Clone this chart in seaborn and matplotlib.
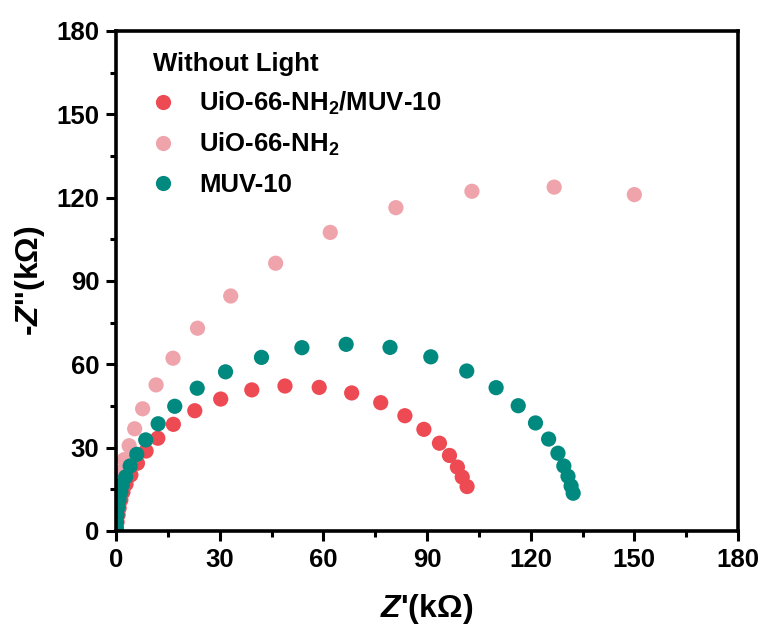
import numpy as np
import pandas as pd
import matplotlib
matplotlib.use("Agg")
import matplotlib.pyplot as plt
from matplotlib.ticker import MultipleLocator
import seaborn as sns

# ---- data (kOhm) ----
red_x = [0.1, 0.3, 0.6, 0.9, 1.4, 2.0, 2.9, 4.3, 6.2, 8.7, 12.1, 16.6, 22.8, 30.3, 39.3,
         48.9, 58.8, 68.2, 76.6, 83.6, 89.1, 93.6, 96.5, 98.8, 100.2, 101.6]
red_y = [1.0, 3.2, 5.8, 8.3, 11.2, 14.0, 16.9, 20.2, 24.4, 28.8, 33.4, 38.4, 43.3, 47.5, 50.8,
         52.2, 51.7, 49.7, 46.2, 41.5, 36.6, 31.6, 27.2, 23.0, 19.4, 16.0]

pink_x = [0.05, 0.1, 0.2, 0.4, 0.7, 1.0, 1.4, 2.4, 3.8, 5.4, 7.7, 11.6, 16.5, 23.6, 33.2,
          46.2, 62.0, 81.0, 103.0, 126.8, 150.0]
pink_y = [1.5, 4.5, 8.0, 11.5, 15.0, 18.0, 21.3, 25.7, 30.7, 36.8, 44.0, 52.6, 62.2, 73.0, 84.6,
          96.4, 107.5, 116.4, 122.3, 123.8, 121.1]

teal_x = [0.05, 0.1, 0.3, 0.6, 0.9, 1.4, 1.8, 2.8, 4.1, 6.0, 8.6, 12.2, 17.0, 23.5, 31.7,
          42.1, 53.8, 66.6, 79.3, 91.1, 101.5, 110.0, 116.4, 121.4, 125.2, 127.9, 129.6,
          130.8, 131.7, 132.3]
teal_y = [1.0, 3.2, 5.8, 8.6, 11.2, 14.0, 16.6, 19.5, 23.4, 27.6, 32.8, 38.6, 44.9, 51.4, 57.3,
          62.5, 66.0, 67.2, 66.1, 62.7, 57.6, 51.6, 45.1, 38.9, 33.1, 28.0, 23.4,
          19.7, 16.2, 13.6]

names = ["UiO-66-NH$_2$/MUV-10", "UiO-66-NH$_2$", "MUV-10"]
colors = ["#EE4A54", "#EFA4AC", "#00897F"]
legend_title = "Without Light"

sns.set_style("ticks")
plt.rcParams["font.family"] = ["Liberation Sans", "DejaVu Sans"]
plt.rcParams["font.weight"] = "bold"
plt.rcParams["text.color"] = "black"
plt.rcParams["axes.labelcolor"] = "black"
plt.rcParams["xtick.color"] = "black"
plt.rcParams["ytick.color"] = "black"
plt.rcParams["axes.edgecolor"] = "black"
plt.rcParams["mathtext.fontset"] = "custom"
plt.rcParams["mathtext.rm"] = "Liberation Sans:bold"
plt.rcParams["mathtext.bf"] = "Liberation Sans:bold"
plt.rcParams["mathtext.it"] = "Liberation Sans:italic:bold"
plt.rcParams["mathtext.default"] = "rm"

df = pd.concat([
    pd.DataFrame({"x": pink_x, "y": pink_y, "s": names[1]}),
    pd.DataFrame({"x": red_x, "y": red_y, "s": names[0]}),
    pd.DataFrame({"x": teal_x, "y": teal_y, "s": names[2]}),
], ignore_index=True)

fig = plt.figure(figsize=(7.66, 6.31), dpi=100)
ax = fig.add_axes([116/766, 1-531/631, (738-116)/766, 500/631])

sns.scatterplot(data=df, x="x", y="y", hue="s", hue_order=names,
                palette=dict(zip(names, colors)), s=120, edgecolor="none",
                linewidth=0, ax=ax, legend=True)

ax.set_xlim(0, 180)
ax.set_ylim(0, 180)
ax.xaxis.set_major_locator(MultipleLocator(30))
ax.yaxis.set_major_locator(MultipleLocator(30))
ax.xaxis.set_minor_locator(MultipleLocator(15))
ax.yaxis.set_minor_locator(MultipleLocator(15))
ax.tick_params(which="major", direction="out", length=7, width=2.2, labelsize=18.5, pad=5,
               colors="black")
ax.tick_params(which="minor", direction="out", length=4, width=2.2, colors="black")
for lab in ax.get_xticklabels() + ax.get_yticklabels():
    lab.set_fontweight("bold")
for sp in ax.spines.values():
    sp.set_linewidth(2.6)
    sp.set_color("black")
    sp.set_visible(True)

ax.set_xlabel(r"$\mathit{Z}$'(kΩ)", fontsize=23, fontweight="bold", labelpad=15)
ax.set_ylabel(r"-$\mathit{Z}$''(kΩ)", fontsize=23, fontweight="bold", labelpad=7)

leg = ax.legend(title=legend_title, loc="upper left", bbox_to_anchor=(0.043, 0.979),
                frameon=False, fontsize=18.5,
                title_fontproperties={"weight": "bold", "size": 18.5},
                markerscale=1.0, handletextpad=1.0, labelspacing=0.55, borderaxespad=0,
                handlelength=0.8)
leg._legend_box.align = "left"
for t in leg.get_texts():
    t.set_fontweight("bold")
    t.set_color("black")
leg.get_title().set_color("black")

fig.savefig("out.png", dpi=100)
